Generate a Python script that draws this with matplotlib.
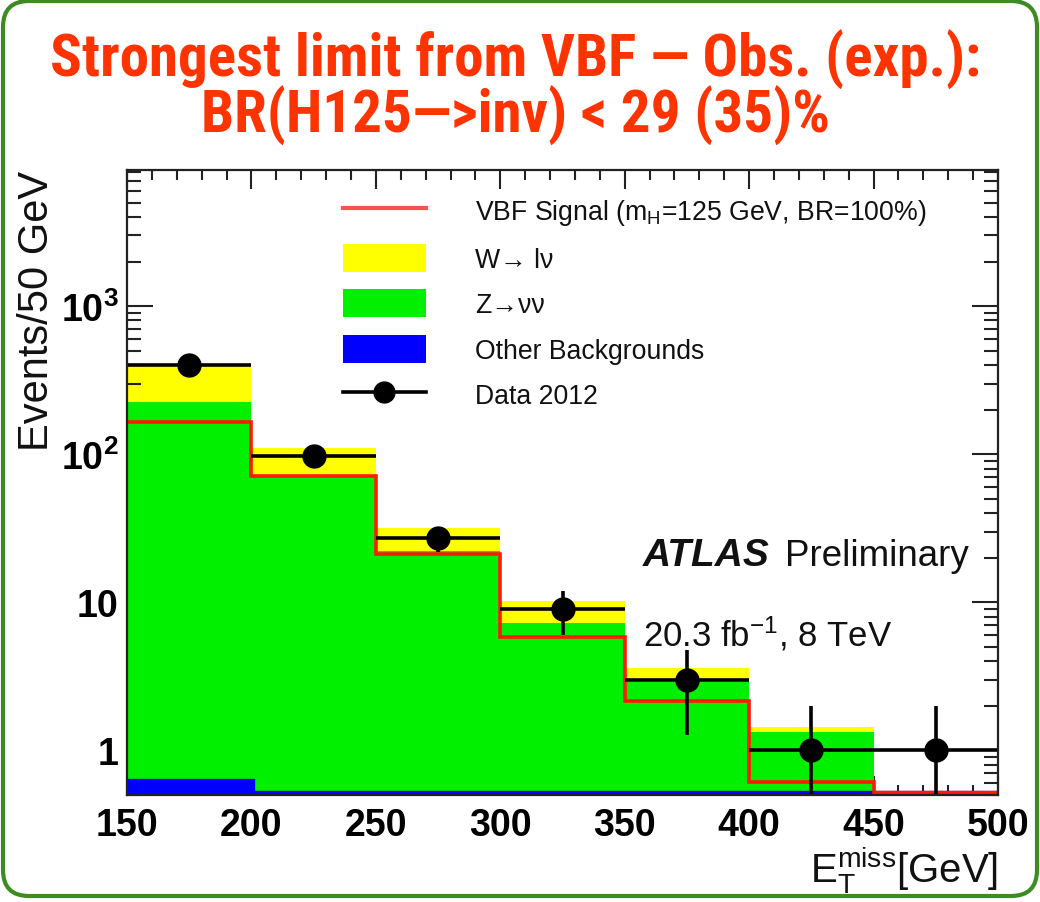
import numpy as np
import matplotlib
matplotlib.use("Agg")
import matplotlib.pyplot as plt
from matplotlib.patches import FancyBboxPatch, Patch
from matplotlib.lines import Line2D
from matplotlib.ticker import MultipleLocator, FixedLocator, FixedFormatter, LogLocator, NullFormatter

# ---------------- data ----------------
bin_edges = [150, 200, 250, 300, 350, 400, 450, 500]
other_bkg = [0.60, 0.30, 0.20, 0.10, 0.05, 0.02, 0.0]
z_nunu = [223.4, 70.7, 22.0, 7.2, 2.85, 1.32, 0.0]
w_lnu = [181.0, 39.0, 9.6, 2.9, 0.7, 0.09, 0.0]
vbf_signal = [164.0, 71.0, 21.1, 5.8, 2.14, 0.61, 0.0]
data_2012 = [400, 98, 27, 9, 3, 1, 1]

y_tick_values = [1, 10, 100, 1000]
y_tick_labels = ["1", "10", r"$\mathbf{10^{2}}$", r"$\mathbf{10^{3}}$"]
x_tick_values = [150, 200, 250, 300, 350, 400, 450, 500]

title_text = "Strongest limit from VBF — Obs. (exp.):\nBR(H125—>inv) < 29 (35)%"

plt.rcParams["mathtext.fontset"] = "custom"
plt.rcParams["mathtext.rm"] = "Liberation Sans"
plt.rcParams["mathtext.it"] = "Liberation Sans:italic"
plt.rcParams["mathtext.bf"] = "Liberation Sans:bold"
plt.rcParams["font.family"] = ["Liberation Sans", "DejaVu Sans"]

W, H = 1040, 903
fig = plt.figure(figsize=(W / 100, H / 100), dpi=100)

def fx(px):
    return px / W

def fy(py):
    return 1 - py / H

ax_l, ax_r, ax_t, ax_b = 127, 998, 171, 796
ax = fig.add_axes([fx(ax_l), fy(ax_b), fx(ax_r - ax_l), (ax_b - ax_t) / H])
ax.set_yscale("log", nonpositive="clip")
ymin, ymax = 0.5, 8300
ax.set_xlim(bin_edges[0], bin_edges[-1])
ax.set_ylim(ymin, ymax)

edges = np.array(bin_edges, dtype=float)
other = np.array(other_bkg)
zz = np.array(z_nunu)
ww = np.array(w_lnu)
sig = np.array(vbf_signal)
dat = np.array(data_2012, dtype=float)

tot = other + zz + ww
green_top = other + zz
base = 1e-3

c_yellow = "#FFFF00"
c_green = "#00F000"
c_blue = "#0000FF"
c_red = "#FF1A00"

ax.stairs(tot, edges, baseline=base, fill=True, color=c_yellow, lw=0, zorder=1)
ax.stairs(green_top, edges, baseline=base, fill=True, color=c_green, lw=0, zorder=2)
ax.stairs(other, edges, baseline=base, fill=True, color=c_blue, lw=0, zorder=3)
# lines at axis minimum for bins below range (ROOT style)
ax.stairs(np.maximum(other, ymin), edges, baseline=None, color=c_blue, lw=6, zorder=3)
ax.stairs(np.maximum(sig, ymin), edges, baseline=None, color=c_red, lw=2.6, zorder=4)
low_sig = sig < ymin
ax.hlines(np.full(low_sig.sum(), ymin), edges[:-1][low_sig], edges[1:][low_sig],
          color=c_red, lw=6, zorder=4)

centers = 0.5 * (edges[:-1] + edges[1:])
half = 0.5 * np.diff(edges)
err = np.sqrt(dat)
ax.errorbar(centers, dat, xerr=half, yerr=err, fmt="o", color="black",
            ms=16.5, elinewidth=2.6, capsize=0, zorder=5)

# ticks
ax.xaxis.set_major_locator(FixedLocator(x_tick_values))
ax.xaxis.set_minor_locator(MultipleLocator(10))
ax.yaxis.set_major_locator(FixedLocator(y_tick_values))
ax.yaxis.set_major_formatter(FixedFormatter(y_tick_labels))
ax.yaxis.set_minor_locator(LogLocator(base=10, subs=np.arange(2, 10)))
ax.yaxis.set_minor_formatter(NullFormatter())
ax.tick_params(which="both", direction="in", top=True, right=True, width=1.5, color="#222222")
ax.tick_params(axis="x", which="major", length=14, labelsize=27, pad=9)
ax.tick_params(axis="x", which="minor", length=7)
ax.tick_params(axis="y", which="major", length=19, labelsize=27, pad=6)
ax.tick_params(axis="y", which="minor", length=10)
for lab in ax.get_xticklabels() + ax.get_yticklabels():
    lab.set_fontweight("bold")
for s in ax.spines.values():
    s.set_linewidth(1.6)
    s.set_color("#222222")
    s.set_zorder(10)

ax.set_ylabel("Events/50 GeV", fontsize=30, loc="top", labelpad=3, color="#111111")
ax.set_xlabel(r"E$_\mathregular{T}^\mathregular{miss}$[GeV]", fontsize=29, loc="right",
              labelpad=0, color="#111111")

# legend
handles = [
    Line2D([], [], color="#FF5050", lw=3),
    Patch(facecolor=c_yellow, edgecolor="none"),
    Patch(facecolor=c_green, edgecolor="none"),
    Patch(facecolor=c_blue, edgecolor="none"),
    Line2D([], [], color="black", lw=2.6, marker="o", ms=15),
]
labels = [
    r"VBF Signal (m$_\mathregular{H}$=125 GeV, BR=100%)",
    "W→ lν",
    "Z→νν",
    "Other Backgrounds",
    "Data 2012",
]
leg = ax.legend(handles, labels, loc="upper left", bbox_to_anchor=(fx(343), fy(197)),
                bbox_transform=fig.transFigure, frameon=False, fontsize=19.2,
                handlelength=3.1, handleheight=1.25, labelspacing=0.62,
                handletextpad=1.85, borderpad=0, borderaxespad=0)
for t in leg.get_texts():
    t.set_color("#111111")

# ATLAS label
fig.text(fx(643), fy(566), "ATLAS", fontsize=28, fontweight="bold", fontstyle="italic",
         color="#111111")
fig.text(fx(785), fy(566), "Preliminary", fontsize=26.5, color="#111111")
fig.text(fx(643), fy(646), r"20.3 fb$^{\mathregular{-1}}$, 8 TeV", fontsize=25, color="#111111")

# title
title_fam = ["Roboto Condensed", "Liberation Sans Narrow", "Roboto", "DejaVu Sans"]
fig.text(0.496, fy(133), title_text, ha="center", va="baseline", fontsize=42.5,
         fontweight="bold", color="#FF3300", family=title_fam, linespacing=0.92,
         multialignment="center")

# rounded green border
border = FancyBboxPatch((3, 6), 1034, 895, boxstyle="round,pad=0,rounding_size=26",
                        transform=None, fill=False, edgecolor="#3C8C22", lw=3)
fig.patches.append(border)

fig.savefig("out.png", dpi=100)
